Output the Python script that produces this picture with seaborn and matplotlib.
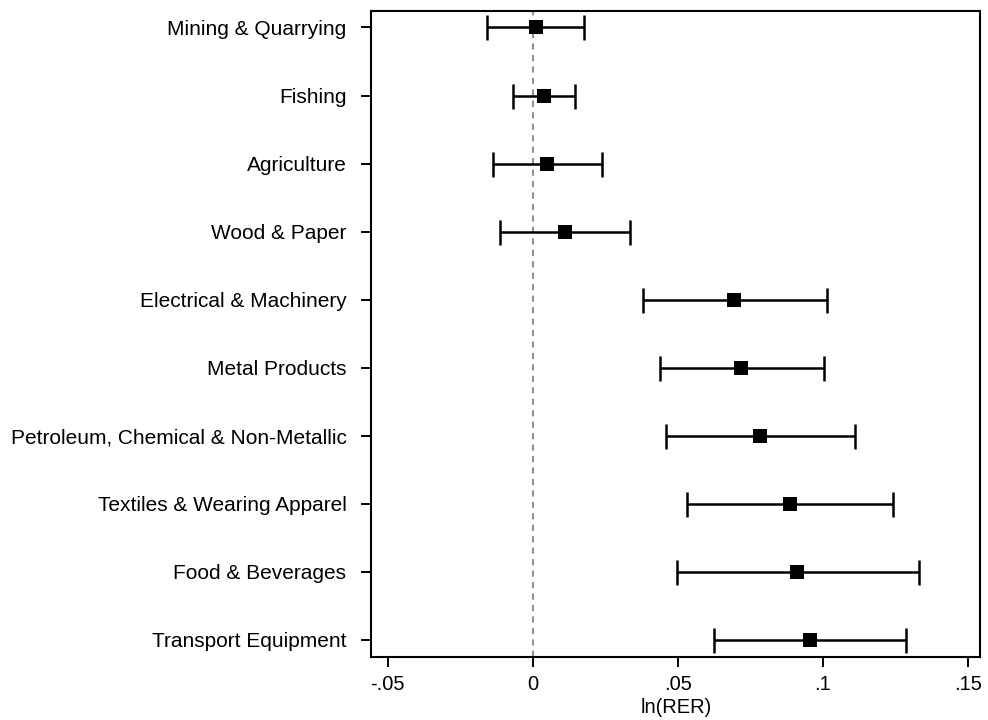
import numpy as np
import pandas as pd
import matplotlib
matplotlib.use("Agg")
import matplotlib.pyplot as plt
import seaborn as sns

sectors = ["Mining & Quarrying", "Fishing", "Agriculture", "Wood & Paper",
           "Electrical & Machinery", "Metal Products",
           "Petroleum, Chemical & Non-Metallic", "Textiles & Wearing Apparel",
           "Food & Beverages", "Transport Equipment"]
estimate = [0.001, 0.004, 0.005, 0.0112, 0.0695, 0.0719, 0.0785, 0.0888, 0.0912, 0.0954]
ci_low = [-0.0158, -0.0069, -0.0138, -0.0113, 0.0381, 0.0439, 0.046, 0.0533, 0.0497, 0.0626]
ci_high = [0.0178, 0.0147, 0.024, 0.0336, 0.1014, 0.1003, 0.1112, 0.1243, 0.133, 0.1285]
xticks = [-0.05, 0, 0.05, 0.1, 0.15]
xticklabels = ["-.05", "0", ".05", ".1", ".15"]

df = pd.DataFrame({"sector": sectors, "est": estimate, "lo": ci_low, "hi": ci_high})
df["pos"] = np.arange(len(df))

sns.set_theme(style="ticks")
plt.rcParams["font.family"] = ["Liberation Sans", "DejaVu Sans"]

fig = plt.figure(figsize=(9.88, 7.2), dpi=100)
ax = fig.add_axes([0.376, 0.088, 0.616, 0.897])

ax.axvline(0, color="#939393", linestyle=(0, (3.0, 2.5)), linewidth=1.5, zorder=1)

xerr = np.vstack([df["est"] - df["lo"], df["hi"] - df["est"]])
ax.errorbar(df["est"], df["pos"], xerr=xerr, fmt="none", ecolor="black",
            elinewidth=1.8, capsize=9, capthick=1.8, zorder=2)
sns.scatterplot(data=df, x="est", y="pos", marker="s", s=112, color="black",
                edgecolor="black", linewidth=0, ax=ax, zorder=3)

ax.set_xlim(-0.0556, 0.1542)
ax.set_ylim(9.245, -0.245)
ax.set_yticks(df["pos"])
ax.set_yticklabels(sectors)
ax.set_xticks(xticks)
ax.set_xticklabels(xticklabels)
ax.set_ylabel("")
ax.set_xlabel("ln(RER)", fontsize=14.5, labelpad=3, color="black")
ax.tick_params(axis="both", length=7.5, width=1.4, color="black",
               labelcolor="black")
ax.tick_params(axis="y", pad=10.5, labelsize=15)
ax.tick_params(axis="x", pad=5.5, labelsize=14.5)
for sp in ax.spines.values():
    sp.set_visible(True)
    sp.set_linewidth(1.5)
    sp.set_color("black")

fig.savefig("out.png", dpi=100)
